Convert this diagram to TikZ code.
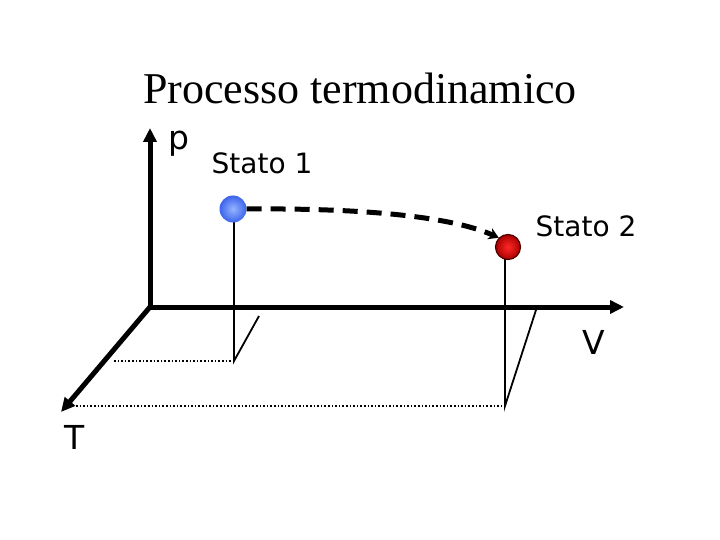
\documentclass[tikz,border=0pt]{standalone}
\usepackage{fontspec}
\setmainfont{Liberation Serif}
\newfontfamily\verd{DejaVu Sans}
\usetikzlibrary{arrows.meta}
\begin{document}
\begin{tikzpicture}[x=1pt,y=-1pt,
  axis/.style={line width=5pt,-{Triangle[length=14pt,width=13pt]}},
  thin/.style={line width=1.8pt},
  dots/.style={line width=1.6pt,dotted},
  lab/.style={font=\verd\fontsize{28}{30}\selectfont,inner sep=0pt},
  axlab/.style={font=\verd\fontsize{33}{36}\selectfont,inner sep=0pt}]
\useasboundingbox (0,0) rectangle (720,540);
\definecolor{bluein}{RGB}{150,180,255}
\definecolor{blueout}{RGB}{60,100,235}
\definecolor{redin}{RGB}{255,40,40}
\definecolor{redout}{RGB}{170,0,0}
\node[inner sep=0pt,font=\fontsize{44}{48}\selectfont] (title) at (360,88) {Processo termodinamico};
\coordinate (O) at (150,307);
\coordinate (ptip) at (150,128);
\coordinate (vtip) at (624,307);
\coordinate (ttip) at (61,412);
\draw[axis] (O) -- (ptip);
\draw[axis] (O) -- (vtip);
\draw[axis] (O) -- (ttip);
\draw[line width=5pt] ([xshift=-2.5pt]O) -- ([xshift=2.5pt]O);
\node[axlab] (p) at (179,144) {p};
\node[lab] (s1) at (262,163) {Stato 1};
\node[lab] (s2) at (586,226) {Stato 2};
\node[axlab] (V) at (594,342) {V};
\node[axlab] (T) at (75,437) {T};
% state 1
\coordinate (b1) at (234,361);
\coordinate (b1s) at (259,316);
\coordinate (b1l) at (114,361);
\draw[thin] (234,209) -- (b1) -- (b1s);
\draw[dots] (b1l) -- (b1);
% state 2
\coordinate (b2) at (505,406);
\coordinate (b2s) at (536,310);
\coordinate (b2l) at (76,406);
\draw[thin] (505,247) -- (b2) -- (b2s);
\draw[dots] (b2l) -- (b2);
\node[circle,minimum size=27pt,inner sep=0pt,inner color=bluein,outer color=blueout] (ball1) at (233,209) {};
\node[circle,minimum size=25pt,inner sep=0pt,inner color=redin,outer color=redout,draw=red!30!black,line width=1.2pt] (ball2) at (508,247) {};
\draw[line width=5pt,dash pattern=on 15pt off 9pt,-{Stealth[length=10pt,width=12pt]}]
  (ball1.east) .. controls (360,208) and (450,216) .. (ball2.north west);
\end{tikzpicture}
\end{document}
